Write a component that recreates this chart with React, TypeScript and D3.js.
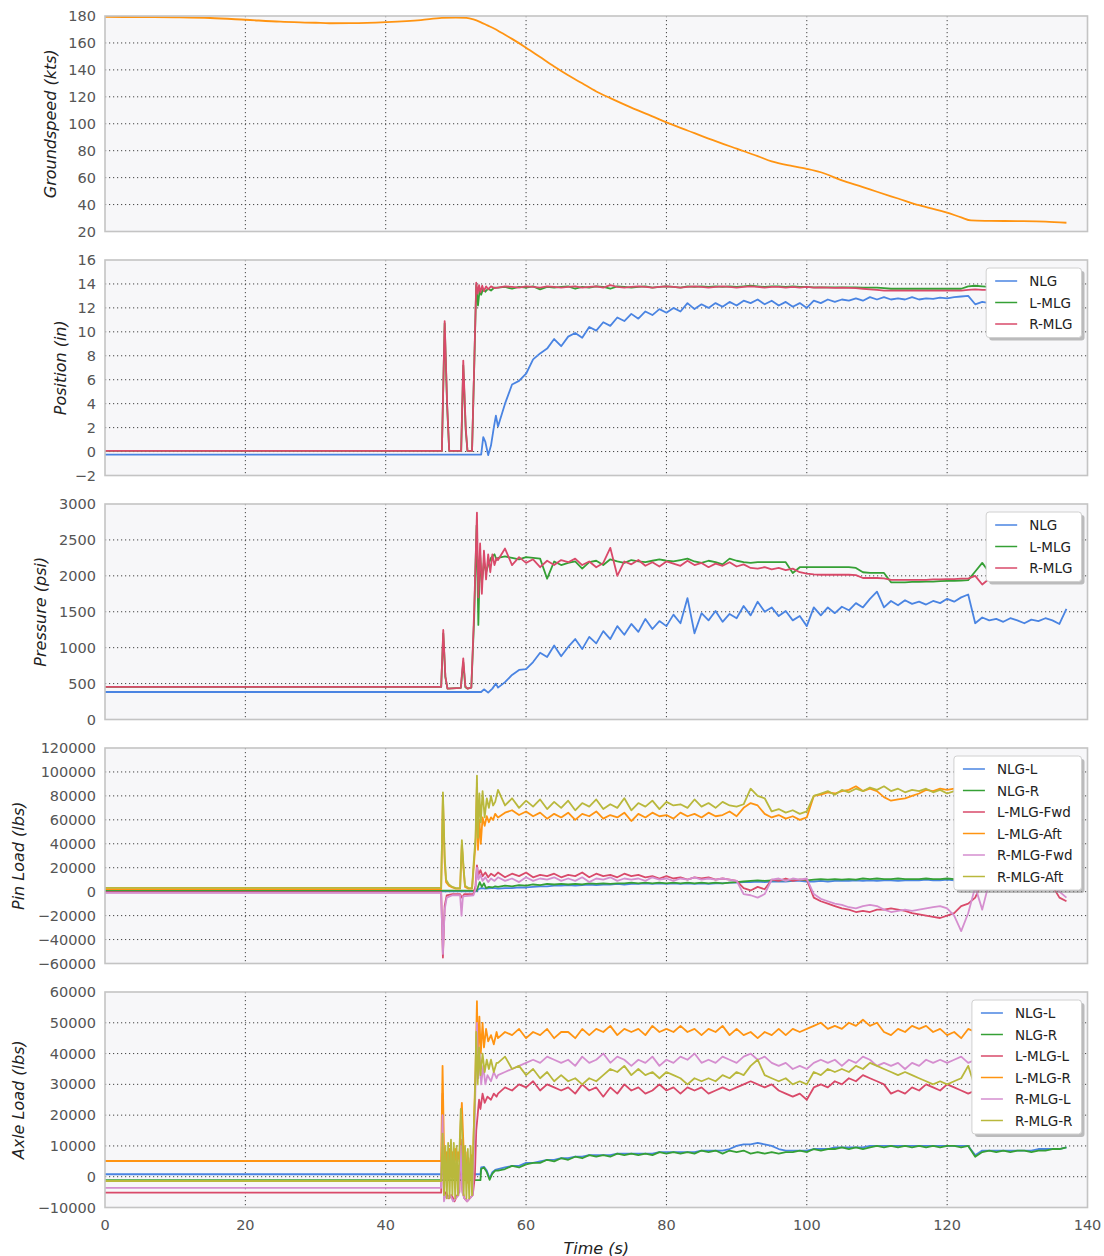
import React, { useMemo } from 'react';
import * as d3 from 'd3';

// tails are sampled once per second from this time (s) up to 137 s
const TAIL_START = 56;

// ---- Groundspeed (kts)
const gsTime = [0, 5, 10, 15, 20, 25, 30, 32, 35, 40, 45, 48, 50, 51.5, 52.5, 53.5, 54.5, 55.5, 56.5, 58, 60, 62, 64, 66, 68, 70, 72, 75, 78, 80, 83, 86, 90, 93, 95, 98, 100, 102, 105, 108, 110, 113, 116, 120, 122, 123.4, 126, 130, 134, 137];
const gsKts = [179.3, 179.2, 179.0, 178.5, 177.2, 175.8, 175.0, 174.6, 174.7, 175.5, 177.0, 178.6, 178.8, 178.6, 177.5, 175.5, 173.0, 170.5, 167.5, 163.0, 156.5, 149.5, 142.5, 136.0, 130.0, 124.0, 119.0, 112.0, 105.5, 101.0, 95.0, 89.0, 81.5, 76.0, 72.0, 68.5, 66.5, 64.0, 58.0, 53.0, 49.5, 44.5, 39.5, 34.0, 30.5, 28.2, 27.9, 27.7, 27.3, 26.5];

// ---- Position (in)
const posNlgLead = [[0, -0.25], [53.6, -0.25], [53.9, 1.2], [54.2, 0.8], [54.6, -0.3], [55.0, 0.5], [55.4, 2.0], [55.7, 3.0]];
const posNlgTail = [
  2.1, 4.0, 5.6, 5.9, 6.5, 7.7, 8.2, 8.6, 9.4, 8.8,
  9.6, 9.9, 9.5, 10.4, 10.1, 10.8, 10.5, 11.2, 10.9, 11.5,
  11.1, 11.7, 11.4, 11.9, 11.6, 12.0, 11.7, 12.4, 11.9, 12.3,
  12.0, 12.4, 12.1, 12.5, 12.2, 12.6, 12.4, 12.7, 12.3, 12.6,
  12.2, 12.5, 12.1, 12.4, 12.0, 12.6, 12.4, 12.7, 12.5, 12.7,
  12.6, 12.8, 12.6, 12.9, 12.7, 12.9, 12.7, 12.8, 12.7, 12.9,
  12.7, 12.8, 12.75, 12.85, 12.8, 12.9, 12.95, 13.0, 12.3, 12.5,
  12.4, 12.5, 12.4, 12.5, 12.45, 12.5, 12.4, 12.5, 12.45, 12.5,
  12.4, 12.5,
];
const posLmlgLead = [[0, 0.05], [48.0, 0.05], [48.4, 10.7], [48.75, 3.8], [49.05, 0.05], [50.75, 0.05], [51.05, 7.2], [51.4, 1.8], [51.65, 0.05], [52.3, 0.05], [52.6, 6.8], [52.9, 13.9], [53.15, 12.2], [53.4, 13.6], [53.6, 13.1], [53.9, 13.6], [54.2, 13.35], [54.6, 13.6], [55.0, 13.45], [55.5, 13.7]];
const posLmlgTail = [
  13.7, 13.75, 13.6, 13.75, 13.7, 13.8, 13.55, 13.75, 13.7, 13.75,
  13.8, 13.6, 13.75, 13.7, 13.8, 13.75, 13.6, 13.8, 13.75, 13.7,
  13.75, 13.8, 13.7, 13.75, 13.8, 13.75, 13.7, 13.8, 13.75, 13.8,
  13.75, 13.8, 13.75, 13.8, 13.75, 13.8, 13.85, 13.8, 13.75, 13.8,
  13.8, 13.75, 13.8, 13.75, 13.75, 13.72, 13.72, 13.72, 13.72, 13.72,
  13.72, 13.72, 13.7, 13.7, 13.7, 13.65, 13.6, 13.6, 13.6, 13.6,
  13.6, 13.6, 13.6, 13.6, 13.6, 13.6, 13.6, 13.8, 13.85, 13.8,
  13.75, 13.7, 13.7, 13.7, 13.7, 13.7, 13.7, 13.7, 13.7, 13.7,
  13.7, 13.7,
];
const posRmlgLead = [[0, 0.05], [48.0, 0.05], [48.4, 10.9], [48.75, 4.0], [49.05, 0.05], [50.75, 0.05], [51.05, 7.6], [51.4, 2.0], [51.65, 0.05], [52.3, 0.05], [52.6, 7.0], [52.9, 14.1], [53.1, 13.2], [53.3, 13.9], [53.5, 13.3], [53.75, 13.85], [54.0, 13.4], [54.3, 13.8], [54.6, 13.55], [55.0, 13.8], [55.5, 13.65]];
const posRmlgTail = [
  13.7, 13.8, 13.75, 13.7, 13.8, 13.75, 13.7, 13.8, 13.75, 13.7,
  13.75, 13.8, 13.7, 13.75, 13.8, 13.7, 13.9, 13.75, 13.7, 13.75,
  13.8, 13.75, 13.7, 13.75, 13.8, 13.75, 13.7, 13.75, 13.8, 13.75,
  13.7, 13.75, 13.8, 13.75, 13.7, 13.75, 13.8, 13.75, 13.7, 13.75,
  13.75, 13.7, 13.75, 13.7, 13.75, 13.7, 13.72, 13.7, 13.68, 13.7,
  13.68, 13.65, 13.6, 13.55, 13.5, 13.45, 13.45, 13.45, 13.45, 13.45,
  13.45, 13.45, 13.45, 13.45, 13.45, 13.45, 13.45, 13.5, 13.55, 13.5,
  13.5, 13.5, 13.5, 13.5, 13.5, 13.5, 13.5, 13.5, 13.5, 13.5,
  13.5, 13.5,
];

// ---- Pressure (psi)
const prsNlgLead = [[0, 383], [53.6, 383], [54.0, 420], [54.6, 374], [55.2, 430], [55.7, 500]];
const prsNlgTail = [
  444, 520, 620, 690, 700, 800, 930, 870, 1030, 880,
  1010, 1120, 980, 1150, 1060, 1230, 1120, 1300, 1180, 1330,
  1220, 1400, 1260, 1370, 1300, 1460, 1340, 1690, 1200, 1480,
  1380, 1510, 1360, 1470, 1410, 1580, 1450, 1640, 1500, 1560,
  1440, 1510, 1380, 1440, 1300, 1560, 1450, 1560, 1480, 1570,
  1520, 1620, 1560, 1680, 1780, 1560, 1650, 1590, 1660, 1610,
  1640, 1600, 1650, 1620, 1680, 1640, 1700, 1740, 1340, 1420,
  1380, 1400, 1360, 1410, 1380, 1340, 1390, 1370, 1410, 1380,
  1330, 1540,
];
const prsLmlgLead = [[0, 453], [47.9, 453], [48.2, 1200], [48.5, 590], [48.8, 430], [50.7, 440], [51.05, 800], [51.35, 450], [51.65, 430], [52.2, 445], [52.6, 1400], [52.95, 2700], [53.2, 1316], [53.45, 2300], [53.7, 1900], [54.0, 2200], [54.3, 2050], [54.6, 2150], [55.0, 2250], [55.5, 2300], [55.8, 2220]];
const prsLmlgTail = [
  2250, 2270, 2250, 2230, 2260, 2250, 2240, 1960, 2200, 2150,
  2180, 2200, 2100, 2190, 2210, 2150, 2230, 2200, 2180, 2220,
  2200, 2190, 2210, 2230, 2210, 2200, 2220, 2240, 2200, 2180,
  2210, 2190, 2160, 2240, 2210, 2190, 2180, 2190, 2190, 2190,
  2190, 2190, 2040, 2120, 2120, 2120, 2120, 2120, 2120, 2120,
  2120, 2110, 2050, 2040, 2040, 2040, 1910, 1910, 1910, 1915,
  1915, 1920, 1920, 1925, 1930, 1930, 1935, 1940, 2060, 2180,
  2050, 2040, 2045, 2040, 2050, 2045, 2050, 2045, 2050, 2045,
  2050, 2045,
];
const prsRmlgLead = [[0, 453], [47.9, 453], [48.2, 1246], [48.5, 600], [48.8, 430], [50.7, 440], [51.05, 850], [51.35, 460], [51.65, 430], [52.2, 445], [52.6, 1500], [53.0, 2880], [53.2, 1700], [53.45, 2450], [53.7, 1750], [54.0, 2350], [54.3, 1950], [54.6, 2300], [54.9, 2050], [55.2, 2300], [55.5, 2150], [55.8, 2250]];
const prsRmlgTail = [
  2220, 2380, 2150, 2260, 2180, 2230, 2120, 2210, 2150, 2220,
  2190, 2240, 2150, 2200, 2120, 2180, 2390, 2000, 2200, 2160,
  2220, 2140, 2190, 2130, 2200, 2170, 2140, 2210, 2150, 2180,
  2120, 2170, 2140, 2190, 2130, 2160, 2110, 2100, 2120, 2090,
  2110, 2080, 2100, 2050, 2030, 2020, 2015, 2015, 2015, 2015,
  2015, 2010, 1970, 1970, 1970, 1965, 1945, 1945, 1945, 1945,
  1945, 1945, 1950, 1950, 1955, 1955, 1960, 1960, 2000, 1880,
  1960, 1965, 1960, 1965, 1970, 1965, 1970, 1970, 1975, 1970,
  1975, 1970,
];

// ---- Pin load (thousands of lbs)
const pinNlgLLead = [[0, 0.3], [52.9, 0.3], [53.2, 2], [53.6, 3], [54.2, 2.5], [55.0, 3], [55.6, 3]];
const pinNlgLTail = [
  2.5, 3, 3, 3.5, 3.5, 4, 4.5, 4.5, 5, 5,
  5.5, 5, 5.5, 6, 5.5, 6, 6, 6.5, 6, 6.5,
  6.5, 7, 6.5, 7, 6.5, 7, 6.5, 7, 6.5, 7,
  6.5, 7, 7, 7.5, 7.5, 8, 8, 8.5, 8, 8.5,
  8.5, 8.5, 9, 9, 8.5, 8.5, 9, 8.5, 9, 9,
  9, 9.5, 9, 9.5, 9, 9.5, 9.5, 9, 9.5, 9.5,
  9.5, 10, 9.5, 9.5, 10, 9.5, 10, 9.5, 9.5, 10,
  10, 10, 10.5, 10, 10, 10.5, 10, 10, 10.5, 10,
  10, 10,
];
const pinNlgRLead = [[0, 0.8], [52.9, 0.8], [53.1, 3], [53.4, 8], [53.7, 4], [54.0, 7], [54.3, 3], [54.7, 4], [55.2, 3.5], [55.6, 4.5]];
const pinNlgRTail = [
  4, 5, 4.5, 5.5, 5, 6, 5.5, 6.5, 6, 6.5,
  6, 6.5, 6, 7, 6.5, 7, 6.5, 7, 7, 7.5,
  7, 7.5, 7, 7.5, 7, 7.5, 7, 7.5, 7, 7.5,
  7, 7.5, 7, 7.5, 8, 8.5, 9, 9.5, 9, 9.5,
  9.5, 9.5, 9.5, 10, 9.5, 10, 10.5, 10, 10.5, 10,
  10.5, 10, 11, 10.5, 11, 10.5, 10.5, 11, 10.5, 10.5,
  10.5, 11, 10.5, 10.5, 11, 10.5, 10.5, 10.5, 10, 10.5,
  10.5, 11, 10.5, 11, 10.5, 11, 10.5, 11, 10.5, 11,
  10.5, 10.5,
];
const pinLFwdLead = [[0, -0.5], [47.9, -0.5], [48.15, -55], [48.4, -12], [48.7, -3], [49.5, -2], [50.6, -2], [50.85, -5], [51.2, -2], [52.5, -2], [52.8, 5], [53.0, 22], [53.2, 14], [53.5, 18], [53.8, 13], [54.2, 16], [54.6, 12], [55.0, 15], [55.5, 13]];
const pinLFwdTail = [
  16, 12, 15, 13, 16, 12, 14, 13, 15, 12,
  14, 13, 16, 12, 15, 13, 14, 12, 15, 13,
  14, 12, 13, 11, 13, 11, 12, 10, 12, 11,
  12, 10, 11, 10, 9, 3, 1, 4, 2, 10,
  9, 11, 9, 10, 10, -5, -8, -10, -12, -14,
  -15, -17, -16, -17, -15, -15, -14, -15, -16, -18,
  -19, -20, -21, -22, -20, -18, -12, -10, -5, 8,
  10, 10, 10, 10, 9, 10, 9, 10, 9, 5,
  -5, -8,
];
const pinLAftLead = [[0, 2.2], [47.9, 2.2], [48.15, 80], [48.4, 25], [48.6, 8], [49.0, 5], [49.5, 3.5], [50.0, 2.5], [50.6, 2.5], [50.85, 40], [51.1, 18], [51.3, 4], [51.8, 2.5], [52.3, 2.5], [52.6, 25], [52.8, 40], [53.0, 90], [53.15, 35], [53.35, 60], [53.55, 40], [53.8, 62], [54.1, 55], [54.4, 63], [54.7, 58], [55.0, 62], [55.3, 60], [55.6, 65]];
const pinLAftTail = [
  62, 66, 68, 64, 67, 63, 66, 61, 65, 62,
  66, 60, 65, 63, 67, 61, 64, 62, 66, 59,
  65, 62, 66, 63, 64, 61, 66, 63, 65, 62,
  66, 63, 64, 67, 63, 70, 74, 72, 65, 62,
  64, 61, 63, 60, 62, 80, 81, 83, 82, 84,
  85, 88, 84, 86, 84, 79, 76, 77, 78, 80,
  82, 85, 84, 86, 85, 86, 84, 86, 85, 86,
  85, 87, 84, 86, 85, 87, 84, 86, 85, 84,
  86, 84,
];
const pinRFwdLead = [[0, -1], [47.9, -1], [48.15, -52], [48.4, -15], [48.7, -5], [49.5, -3], [50.6, -3], [50.8, -20], [51.0, -4], [52.5, -3], [52.8, 2], [53.0, 20], [53.2, 10], [53.5, 14], [53.8, 9], [54.2, 12], [54.6, 8], [55.0, 11], [55.5, 9]];
const pinRFwdTail = [
  12, 9, 11, 8, 12, 9, 11, 10, 12, 9,
  11, 9, 12, 8, 11, 10, 12, 9, 11, 10,
  11, 9, 12, 10, 11, 9, 11, 10, 12, 10,
  11, 10, 11, 10, 9, -2, -3, -5, -2, 10,
  11, 9, 11, 10, 11, -2, -6, -8, -10, -11,
  -13, -14, -12, -11, -12, -15, -17, -16, -15, -16,
  -15, -14, -13, -12, -14, -20, -33, -18, 4, -15,
  8, 9, 9, 10, 9, 10, 9, 10, 9, 8,
  0, -5,
];
const pinRAftLead = [[0, 3.2], [47.9, 3.2], [48.15, 83], [48.4, 30], [48.6, 10], [49.0, 6], [49.5, 4], [50.0, 3], [50.6, 3], [50.85, 43], [51.1, 20], [51.3, 5], [51.8, 3], [52.3, 3], [52.6, 30], [52.8, 45], [53.0, 97], [53.15, 45], [53.35, 82], [53.55, 58], [53.8, 84], [54.1, 62], [54.4, 78], [54.7, 70], [55.0, 80], [55.3, 72], [55.6, 75]];
const pinRAftTail = [
  85, 72, 78, 70, 76, 71, 77, 69, 75, 70,
  76, 68, 74, 71, 77, 69, 73, 70, 78, 68,
  74, 71, 76, 69, 75, 72, 73, 70, 77, 71,
  74, 70, 75, 72, 71, 73, 86, 80, 78, 67,
  69, 66, 68, 65, 67, 80, 82, 84, 81, 85,
  83, 86, 84, 87, 85, 88, 84, 86, 83, 85,
  84, 86, 83, 85, 82, 84, 83, 85, 82, 84,
  83, 85, 82, 84, 83, 85, 82, 84, 83, 82,
  84, 82,
];

// ---- Axle load (thousands of lbs)
const axNlgLLead = [[0, 0.8], [53.5, 0.8], [53.6, 3], [54.0, 3.2], [54.4, 2], [54.8, -0.5], [55.2, 1.5], [55.6, 2.2]];
const axNlgLTail = [
  2.5, 3, 3.5, 3.5, 4.5, 4.5, 5, 5.5, 5.5, 6,
  6, 6.5, 6.5, 7, 7, 7, 7, 7.5, 7.5, 7.5,
  7.5, 7.5, 7.5, 8, 8, 8, 8, 8, 8, 8.5,
  8.5, 8.5, 8.5, 9, 10, 10.5, 10.5, 11, 10.5, 10,
  9, 8.5, 8.5, 8.5, 8.5, 9, 9, 9, 9.5, 9.5,
  9.5, 9.5, 9.5, 10, 10, 10, 10, 10, 10, 10,
  10, 10, 10, 10, 10, 10, 10, 10, 7, 8.5,
  8.5, 8.5, 8.5, 8.5, 8.5, 8.5, 8.5, 9, 9, 9,
  9, 9.5,
];
const axNlgRLead = [[0, -1.1], [53.5, -1.1], [53.6, 2.5], [54.0, 3], [54.4, 1.5], [54.8, -1], [55.2, 1], [55.6, 2]];
const axNlgRTail = [
  2, 2.5, 3.5, 3, 4, 4.5, 4.5, 5.5, 5, 6,
  5.5, 6.5, 6, 7, 6.5, 7, 6.5, 7.5, 7, 7.5,
  7, 7.5, 7, 8, 7.5, 8, 7.5, 8, 7.5, 8.5,
  8, 8.5, 7.5, 8.5, 8, 8.5, 7.5, 8, 7.5, 8,
  7.5, 8, 8, 8.5, 8, 9, 8.5, 9, 9, 9.5,
  9, 9.5, 9, 9.5, 10, 9.5, 10, 9.5, 10, 9.5,
  10, 9.5, 10, 9.5, 10, 10, 9.5, 10, 6.5, 8,
  8.5, 8, 8.5, 8, 8.5, 8.5, 8, 8.5, 8.5, 9,
  9, 9.5,
];
const axLLLead = [[0, -5.2], [47.9, -5.2], [48.1, 27], [48.3, -7], [48.6, -5], [49.0, -7], [49.4, -6], [49.8, -8], [50.2, -6], [50.5, -5], [50.7, 12], [50.9, -4], [51.2, -7], [51.6, -8], [52.0, -7], [52.4, -6], [52.7, 0], [52.9, 15], [53.1, 20], [53.3, 25], [53.5, 22], [53.8, 27], [54.1, 24], [54.5, 26], [55.0, 25], [55.4, 27], [55.8, 26]];
const axLLTail = [
  27, 29, 28, 30, 29, 31, 28, 30, 29, 28,
  29, 27, 30, 28, 29, 26, 29, 27, 30, 28,
  29, 27, 28, 30, 28, 29, 27, 29, 28, 29,
  27, 28, 29, 28, 29, 30, 31, 30, 29, 30,
  28, 27, 26, 27, 25, 29, 30, 29, 31, 30,
  32, 31, 33, 32, 31, 30, 27, 28, 27, 29,
  28, 30, 29, 28, 30, 29, 28, 27, 28, 29,
  28, 29, 27, 28, 29, 28, 27, 29, 28, 28,
  29, 28,
];
const axLRLead = [[0, 5.1], [47.9, 5.1], [48.1, 36], [48.3, 10], [48.5, 2], [48.7, 8], [48.9, 1], [49.1, 9], [49.3, 2], [49.5, 8], [49.7, 3], [49.9, 9], [50.1, 4], [50.3, 8], [50.5, 5], [50.7, 18], [50.85, 24], [51.0, 15], [51.2, 3], [51.4, 8], [51.6, -2], [51.8, 6], [52.0, 0], [52.2, 7], [52.4, 2], [52.6, 20], [52.8, 35], [53.0, 57], [53.15, 38], [53.35, 52], [53.55, 40], [53.8, 50], [54.0, 42], [54.3, 48], [54.6, 44], [55.0, 46], [55.4, 43], [55.8, 47]];
const axLRTail = [
  45, 47, 46, 48, 45, 47, 46, 48, 45, 47,
  47, 45, 48, 46, 48, 47, 49, 46, 48, 47,
  48, 46, 49, 47, 48, 47, 49, 47, 48, 46,
  48, 47, 49, 46, 48, 46, 47, 45, 47, 46,
  48, 46, 48, 47, 48, 49, 50, 48, 49, 48,
  50, 49, 51, 49, 50, 47, 46, 48, 47, 49,
  48, 49, 47, 48, 46, 47, 45, 48, 47, 48,
  47, 48, 46, 48, 47, 48, 46, 47, 48, 47,
  47, 46,
];
const axRLLead = [[0, -3.6], [47.9, -3.6], [48.1, 20], [48.3, -8], [48.5, -6], [48.8, -7], [49.2, -6], [49.6, -8], [50.0, -7], [50.4, -6], [50.7, 10], [50.9, -5], [51.2, -7], [51.6, -8], [52.0, -7], [52.4, -6], [52.6, 10], [52.8, 30], [53.0, 50], [53.2, 32], [53.4, 40], [53.6, 30], [53.9, 36], [54.2, 30], [54.5, 33], [55.0, 31], [55.4, 34], [55.8, 32]];
const axRLTail = [
  33, 34, 35, 36, 37, 38, 37, 39, 38, 37,
  38, 36, 39, 37, 38, 40, 37, 39, 38, 36,
  38, 37, 39, 36, 38, 37, 39, 38, 40, 37,
  38, 37, 39, 38, 37, 39, 40, 38, 39, 37,
  36, 37, 35, 36, 35, 37, 38, 37, 38, 36,
  38, 37, 39, 38, 36, 37, 36, 37, 35, 37,
  36, 38, 37, 38, 37, 38, 39, 37, 38, 37,
  37, 38, 36, 38, 37, 38, 37, 36, 38, 37,
  37, 38,
];
const axRRLead = [[0, -1.4], [47.9, -1.4], [48.1, 14], [48.3, -6], [48.5, 10], [48.7, -7], [48.9, 11], [49.1, -7], [49.3, 12], [49.5, -6], [49.7, 11], [49.9, -7], [50.1, 10], [50.3, -6], [50.5, 8], [50.7, 22], [50.9, 14], [51.1, -6], [51.3, 10], [51.5, -7], [51.7, 9], [51.9, -7], [52.1, 10], [52.3, -6], [52.5, 12], [52.7, 25], [52.9, 47], [53.1, 30], [53.3, 42], [53.5, 33], [53.8, 40], [54.1, 34], [54.4, 38], [54.7, 35], [55.0, 38], [55.4, 34], [55.8, 37]];
const axRRTail = [
  37, 39, 35, 36, 33, 35, 32, 34, 31, 33,
  31, 32, 30, 32, 31, 33, 35, 34, 36, 33,
  35, 33, 34, 32, 34, 33, 32, 30, 32, 31,
  32, 31, 33, 32, 34, 33, 36, 38, 33, 32,
  31, 32, 30, 31, 30, 34, 33, 35, 34, 35,
  34, 36, 35, 37, 36, 35, 34, 33, 34, 33,
  32, 31, 30, 31, 30, 31, 32, 36, 29, 31,
  32, 31, 33, 32, 31, 32, 33, 31, 32, 31,
  32, 31,
];

const gearLabels3 = ['NLG', 'L-MLG', 'R-MLG'];
const pinLabels = ['NLG-L', 'NLG-R', 'L-MLG-Fwd', 'L-MLG-Aft', 'R-MLG-Fwd', 'R-MLG-Aft'];
const axleLabels = ['NLG-L', 'NLG-R', 'L-MLG-L', 'L-MLG-R', 'R-MLG-L', 'R-MLG-R'];
const xTicks = [0, 20, 40, 60, 80, 100, 120, 140];

const C = {
  blue: '#4a84e2',
  green: '#35a035',
  red: '#d94a6a',
  orange: '#ff9412',
  pink: '#d58ecf',
  olive: '#b9b83c',
};

type Pt = [number, number];
const join = (lead: number[][], tail: number[], k = 1): Pt[] =>
  lead.map(([t, v]) => [t, v * k] as Pt).concat(tail.map((v, i) => [TAIL_START + i, v * k] as Pt));

const LEFT = 105;
const RIGHT = 1087.5;
const TOP0 = 16;
const STEP = 244;
const PH = 215.5;
const FONT = 'DejaVu Sans, sans-serif';

const measure = (txt: string, size: number) => {
  const ctx = document.createElement('canvas').getContext('2d');
  if (!ctx) return txt.length * size * 0.6;
  ctx.font = `${size}px DejaVu Sans`;
  return ctx.measureText(txt).width;
};

export default function App() {
  const x = d3.scaleLinear().domain([0, 140]).range([LEFT, RIGHT]);

  const panels = useMemo(() => [
    {
      label: 'Groundspeed (kts)', labelX: 50, domain: [20, 180], ticks: d3.range(20, 181, 20), smooth: true,
      series: [{ name: '', color: C.orange, pts: gsTime.map((t, i) => [t, gsKts[i]] as Pt) }],
      legend: false,
    },
    {
      label: 'Position (in)', labelX: 60, domain: [-2, 16], ticks: d3.range(-2, 17, 2), smooth: false,
      series: [
        { name: gearLabels3[0], color: C.blue, pts: join(posNlgLead, posNlgTail) },
        { name: gearLabels3[1], color: C.green, pts: join(posLmlgLead, posLmlgTail) },
        { name: gearLabels3[2], color: C.red, pts: join(posRmlgLead, posRmlgTail) },
      ],
      legend: true,
    },
    {
      label: 'Pressure (psi)', labelX: 40, domain: [0, 3000], ticks: d3.range(0, 3001, 500), smooth: false,
      series: [
        { name: gearLabels3[0], color: C.blue, pts: join(prsNlgLead, prsNlgTail) },
        { name: gearLabels3[1], color: C.green, pts: join(prsLmlgLead, prsLmlgTail) },
        { name: gearLabels3[2], color: C.red, pts: join(prsRmlgLead, prsRmlgTail) },
      ],
      legend: true,
    },
    {
      label: 'Pin Load (lbs)', labelX: 18, domain: [-60000, 120000], ticks: d3.range(-60000, 120001, 20000), smooth: false,
      series: [
        { name: pinLabels[0], color: C.blue, pts: join(pinNlgLLead, pinNlgLTail, 1000) },
        { name: pinLabels[1], color: C.green, pts: join(pinNlgRLead, pinNlgRTail, 1000) },
        { name: pinLabels[2], color: C.red, pts: join(pinLFwdLead, pinLFwdTail, 1000) },
        { name: pinLabels[3], color: C.orange, pts: join(pinLAftLead, pinLAftTail, 1000) },
        { name: pinLabels[4], color: C.pink, pts: join(pinRFwdLead, pinRFwdTail, 1000) },
        { name: pinLabels[5], color: C.olive, pts: join(pinRAftLead, pinRAftTail, 1000) },
      ],
      legend: true,
    },
    {
      label: 'Axle Load (lbs)', labelX: 18, domain: [-10000, 60000], ticks: d3.range(-10000, 60001, 10000), smooth: false,
      series: [
        { name: axleLabels[0], color: C.blue, pts: join(axNlgLLead, axNlgLTail, 1000) },
        { name: axleLabels[1], color: C.green, pts: join(axNlgRLead, axNlgRTail, 1000) },
        { name: axleLabels[2], color: C.red, pts: join(axLLLead, axLLTail, 1000) },
        { name: axleLabels[3], color: C.orange, pts: join(axLRLead, axLRTail, 1000) },
        { name: axleLabels[4], color: C.pink, pts: join(axRLLead, axRLTail, 1000) },
        { name: axleLabels[5], color: C.olive, pts: join(axRRLead, axRRTail, 1000) },
      ],
      legend: true,
    },
  ], []);

  const fmt = d3.format('d');

  return (
    <svg width={1104} height={1256} style={{ position: 'absolute', left: 0, top: 0, background: '#fff' }} fontFamily={FONT}>
      <defs>
        {panels.map((p, i) => (
          <clipPath id={`clip${i}`} key={i}>
            <rect x={LEFT} y={TOP0 + i * STEP} width={RIGHT - LEFT} height={PH} />
          </clipPath>
        ))}
      </defs>
      {panels.map((p, i) => {
        const top = TOP0 + i * STEP;
        const y = d3.scaleLinear().domain(p.domain).range([top + PH, top]);
        const line = d3.line<Pt>().x(d => x(d[0])).y(d => y(d[1]));
        if (p.smooth) line.curve(d3.curveMonotoneX);
        const legendW = p.legend ? d3.max(p.series, s => measure(s.name, 13.5))! + 52 : 0;
        const lx = RIGHT - 6 - legendW;
        const ly = top + 8;
        const lh = p.series.length * 21.5 + 5;
        return (
          <g key={i}>
            <rect x={LEFT} y={top} width={RIGHT - LEFT} height={PH} fill="#f7f7f9" />
            {p.ticks.slice(1, -1).map(t => (
              <line key={`h${t}`} x1={LEFT} x2={RIGHT} y1={y(t)} y2={y(t)} stroke="#444" strokeWidth={1} strokeDasharray="1.2 2.8" />
            ))}
            {xTicks.slice(1, -1).map(t => (
              <line key={`v${t}`} x1={x(t)} x2={x(t)} y1={top} y2={top + PH} stroke="#444" strokeWidth={1} strokeDasharray="1.2 2.8" />
            ))}
            <g clipPath={`url(#clip${i})`}>
              {p.series.map(s => (
                <path key={s.name || 'gs'} d={line(s.pts) || ''} fill="none" stroke={s.color} strokeWidth={1.8} strokeLinejoin="round" />
              ))}
            </g>
            <rect x={LEFT} y={top} width={RIGHT - LEFT} height={PH} fill="none" stroke="#c4c4c4" strokeWidth={1.6} />
            {p.ticks.map(t => (
              <text key={`t${t}`} x={96} y={y(t)} textAnchor="end" dominantBaseline="central" fontSize={14.5} fill="#555">
                {fmt(t)}
              </text>
            ))}
            <text transform={`translate(${p.labelX},${top + PH / 2}) rotate(-90)`} textAnchor="middle" dominantBaseline="central"
              fontSize={16} fontStyle="italic" fill="#222">
              {p.label}
            </text>
            {p.legend && (
              <g>
                <rect x={lx + 3} y={ly + 3} width={legendW} height={lh} rx={3} fill="#8a8a8a" opacity={0.55} />
                <rect x={lx} y={ly} width={legendW} height={lh} rx={3} fill="#fff" stroke="#d0d0d0" strokeWidth={1} />
                {p.series.map((s, k) => (
                  <g key={s.name}>
                    <line x1={lx + 9} x2={lx + 31} y1={ly + 13 + k * 21.5} y2={ly + 13 + k * 21.5} stroke={s.color} strokeWidth={1.5} />
                    <text x={lx + 43} y={ly + 13 + k * 21.5} dominantBaseline="central" fontSize={13.5} fill="#222">{s.name}</text>
                  </g>
                ))}
              </g>
            )}
          </g>
        );
      })}
      {xTicks.map(t => (
        <text key={t} x={x(t)} y={TOP0 + 4 * STEP + PH + 17} textAnchor="middle" dominantBaseline="central" fontSize={14.5} fill="#555">
          {t}
        </text>
      ))}
      <text x={(LEFT + RIGHT) / 2} y={1248} textAnchor="middle" dominantBaseline="central" fontSize={16} fontStyle="italic" fill="#222">
        Time (s)
      </text>
    </svg>
  );
}
